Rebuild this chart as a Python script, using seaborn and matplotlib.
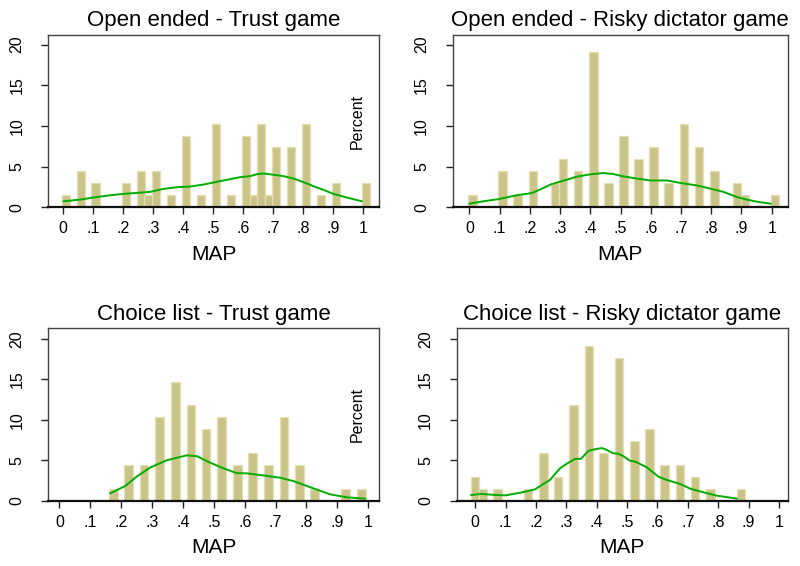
import numpy as np
import pandas as pd
import matplotlib
matplotlib.use("Agg")
import matplotlib.pyplot as plt
import seaborn as sns

# ---------------- data ----------------
titles = ["Open ended - Trust game", "Open ended - Risky dictator game",
          "Choice list - Trust game", "Choice list - Risky dictator game"]

p1_x = [0.01, 0.06, 0.108, 0.21, 0.26, 0.285, 0.31, 0.36, 0.41, 0.46, 0.51, 0.56,
        0.61, 0.636, 0.66, 0.686, 0.71, 0.76, 0.81, 0.86, 0.91, 1.01]
p1_y = [1.47, 4.41, 2.94, 2.94, 4.41, 1.47, 4.41, 1.47, 8.82, 1.47, 10.29, 1.47,
        8.82, 1.47, 10.29, 1.47, 7.35, 7.35, 10.29, 1.47, 2.94, 2.94]

p2_x = [0.011, 0.11, 0.159, 0.21, 0.285, 0.31, 0.36, 0.41, 0.46, 0.51, 0.56, 0.609,
        0.659, 0.71, 0.76, 0.81, 0.885, 0.912, 1.01]
p2_y = [1.47, 4.41, 1.47, 4.41, 2.94, 5.88, 4.41, 19.12, 2.94, 8.82, 5.88, 7.35,
        2.94, 10.29, 7.35, 4.41, 2.94, 1.47, 1.47]

p3_x = [0.176, 0.224, 0.274, 0.325, 0.376, 0.426, 0.475, 0.525, 0.576, 0.626, 0.676,
        0.727, 0.777, 0.826, 0.927, 0.978]
p3_y = [1.47, 4.41, 4.41, 10.29, 14.71, 11.76, 8.82, 10.29, 4.41, 5.88, 4.41,
        10.29, 4.41, 1.47, 1.47, 1.47]

p4_x = [0.0, 0.026, 0.074, 0.173, 0.224, 0.273, 0.323, 0.374, 0.423, 0.474, 0.525,
        0.574, 0.623, 0.675, 0.723, 0.774, 0.875]
p4_y = [2.94, 1.47, 1.47, 1.47, 5.88, 2.94, 11.76, 19.12, 5.88, 17.65, 7.35,
        8.82, 4.41, 4.41, 2.94, 1.47, 1.47]

# kernel density lines (scaled to percent)
k1_x = [0.0, 0.056, 0.1, 0.156, 0.2, 0.245, 0.29, 0.334, 0.379, 0.423, 0.468, 0.512,
        0.557, 0.59, 0.624, 0.646, 0.668, 0.702, 0.735, 0.768, 0.802, 0.835, 0.869,
        0.902, 0.947, 0.997]
k1_y = [0.74, 0.95, 1.2, 1.48, 1.65, 1.77, 1.9, 2.26, 2.47, 2.55, 2.8, 3.13,
        3.46, 3.7, 3.83, 4.07, 4.16, 4.0, 3.83, 3.54, 3.09, 2.6, 2.14,
        1.65, 1.2, 0.74]

k2_x = [0.0, 0.046, 0.1, 0.157, 0.206, 0.234, 0.272, 0.322, 0.355, 0.399, 0.443,
        0.476, 0.504, 0.542, 0.598, 0.653, 0.697, 0.752, 0.796, 0.84, 0.884, 0.917,
        0.956, 0.997]
k2_y = [0.45, 0.74, 1.03, 1.49, 1.74, 2.19, 2.85, 3.39, 3.76, 4.05, 4.21,
        4.09, 3.84, 3.6, 3.3, 3.3, 3.0, 2.69, 2.31, 1.9, 1.28, 0.95,
        0.66, 0.45]

k3_x = [0.164, 0.213, 0.25, 0.294, 0.348, 0.38, 0.412, 0.445, 0.488, 0.531, 0.574,
        0.606, 0.65, 0.714, 0.757, 0.822, 0.876, 0.93, 0.99]
k3_y = [0.91, 1.81, 2.97, 4.1, 5.0, 5.3, 5.6, 5.5, 4.7, 4.0, 3.4,
        3.38, 3.17, 2.84, 2.43, 1.53, 0.79, 0.42, 0.25]

k4_x = [-0.014, 0.02, 0.07, 0.1, 0.15, 0.197, 0.213, 0.246, 0.279, 0.307, 0.329,
        0.348, 0.373, 0.395, 0.417, 0.433, 0.453, 0.471, 0.488, 0.508, 0.527,
        0.565, 0.603, 0.631, 0.675, 0.708, 0.752, 0.796, 0.862]
k4_y = [0.7, 0.83, 0.7, 0.66, 1.0, 1.4, 1.8, 2.56, 4.0, 4.7, 5.17,
        5.17, 6.16, 6.36, 6.5, 6.28, 5.87, 5.8, 5.5, 4.96, 4.82,
        4.12, 2.97, 2.56, 2.06, 1.48, 1.03, 0.62, 0.25]

xticks = [0, 0.1, 0.2, 0.3, 0.4, 0.5, 0.6, 0.7, 0.8, 0.9, 1.0]
xtick_labels = ["0", ".1", ".2", ".3", ".4", ".5", ".6", ".7", ".8", ".9", "1"]
yticks = [0, 5, 10, 15, 20]
ytick_labels = ["0", "5", "10", "15", "20"]
xlabel = "MAP"
ylabel_text = "Percent"

# ---------------- style ----------------
sns.set_style("white")
plt.rcParams["font.family"] = ["Liberation Sans", "DejaVu Sans"]
plt.rcParams["text.color"] = "black"
plt.rcParams["axes.labelcolor"] = "black"
plt.rcParams["xtick.color"] = "black"
plt.rcParams["ytick.color"] = "black"
plt.rcParams["xtick.labelcolor"] = "black"
plt.rcParams["ytick.labelcolor"] = "black"

BAR = "#CBC488"
EDGE = "#E4DFB4"
GREEN = "#00AD00"

fig = plt.figure(figsize=(8.0, 5.66), dpi=100)

panels = [
    dict(bx=p1_x, by=p1_y, kx=k1_x, ky=k1_y, pos=[0.0604, 0.6337, 0.4134, 0.3049],
         xlim=(-0.05, 1.054), ylim=(0, 21.2), bw=0.028, pct=True),
    dict(bx=p2_x, by=p2_y, kx=k2_x, ky=k2_y, pos=[0.5659, 0.6337, 0.4188, 0.3049],
         xlim=(-0.055, 1.053), ylim=(0, 21.2), bw=0.028, pct=False),
    dict(bx=p3_x, by=p3_y, kx=k3_x, ky=k3_y, pos=[0.0604, 0.1154, 0.4134, 0.3046],
         xlim=(-0.036, 1.035), ylim=(0, 21.3), bw=0.028, pct=True),
    dict(bx=p4_x, by=p4_y, kx=k4_x, ky=k4_y, pos=[0.5709, 0.1154, 0.4138, 0.3046],
         xlim=(-0.061, 1.029), ylim=(0, 21.3), bw=0.028, pct=False),
]

for title, p in zip(titles, panels):
    ax = fig.add_axes(p["pos"])
    df = pd.DataFrame({"x": p["bx"], "y": p["by"]})
    min_gap = np.min(np.diff(np.sort(np.asarray(p["bx"]))))
    sns.barplot(data=df, x="x", y="y", native_scale=True, orient="x",
                width=p["bw"] / min_gap, color=BAR, saturation=1,
                errorbar=None, edgecolor=EDGE, linewidth=0.9, ax=ax)
    sns.lineplot(x=p["kx"], y=p["ky"], color=GREEN, linewidth=1.4, ax=ax)

    ax.set_xlim(*p["xlim"])
    ax.set_ylim(*p["ylim"])
    ax.set_xticks(xticks)
    ax.set_xticklabels(xtick_labels, fontsize=11.5, color="black")
    ax.set_yticks(yticks)
    ax.set_yticklabels(ytick_labels, fontsize=11.5, rotation=90, va="center",
                       color="black")
    ax.tick_params(axis="both", which="both", direction="out", length=5,
                   width=1.0, color="#222222", bottom=True, left=True)
    ax.tick_params(axis="x", pad=5)
    ax.tick_params(axis="y", pad=12)
    ax.set_xlabel(xlabel, fontsize=15, labelpad=6, color="black")
    ax.set_ylabel("")
    ax.set_title(title, fontsize=16, pad=6, color="black")
    for side in ["left", "top", "right"]:
        ax.spines[side].set_visible(True)
        ax.spines[side].set_color("#444444")
        ax.spines[side].set_linewidth(1.0)
    ax.spines["bottom"].set_color("#111111")
    ax.spines["bottom"].set_linewidth(1.6)
    if p["pct"]:
        ax.text(0.933, 0.5, ylabel_text, transform=ax.transAxes, rotation=90,
                ha="center", va="center", fontsize=11.5, color="black")

fig.savefig("out.png", dpi=100)
